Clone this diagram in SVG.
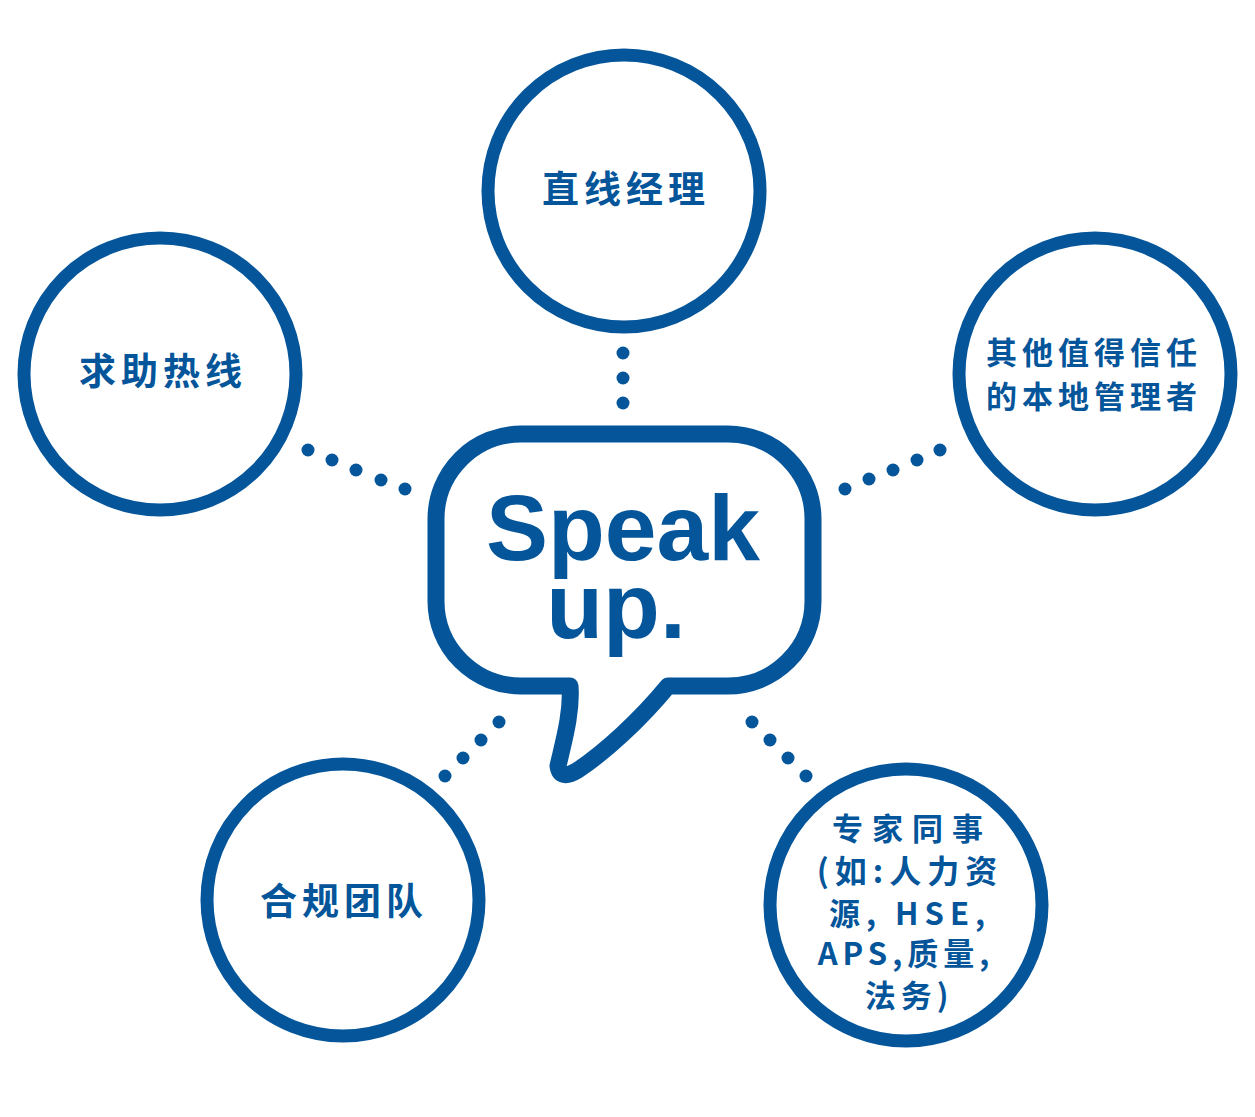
<svg xmlns="http://www.w3.org/2000/svg" width="1255" height="1117" viewBox="0 0 1255 1117">
<style>
.ring{fill:#fff;stroke:#04559A;stroke-width:13}
.dot{fill:#04559A}
.cjk{font-family:"Noto Sans CJK SC","Noto Sans",sans-serif;font-weight:700;fill:#04559A;text-anchor:middle}
.big{font-family:"Liberation Sans",Arial,sans-serif;font-weight:700;fill:#04559A;text-anchor:middle;font-size:93px}
</style>
<rect width="1255" height="1117" fill="#fff"/>
<g id="connectors">
<circle class="dot" cx="623" cy="353" r="6.5"/><circle class="dot" cx="623" cy="378" r="6.5"/><circle class="dot" cx="623" cy="403" r="6.5"/>
<circle class="dot" cx="308" cy="450" r="6.5"/><circle class="dot" cx="332" cy="460" r="6.5"/><circle class="dot" cx="356" cy="470" r="6.5"/><circle class="dot" cx="381" cy="480" r="6.5"/><circle class="dot" cx="405" cy="489" r="6.5"/>
<circle class="dot" cx="845" cy="489" r="6.5"/><circle class="dot" cx="869" cy="479" r="6.5"/><circle class="dot" cx="893" cy="470" r="6.5"/><circle class="dot" cx="917" cy="460" r="6.5"/><circle class="dot" cx="940" cy="450" r="6.5"/>
<circle class="dot" cx="499" cy="722" r="6.5"/><circle class="dot" cx="481" cy="740" r="6.5"/><circle class="dot" cx="463" cy="758" r="6.5"/><circle class="dot" cx="445" cy="776" r="6.5"/>
<circle class="dot" cx="752" cy="722" r="6.5"/><circle class="dot" cx="770" cy="740" r="6.5"/><circle class="dot" cx="788" cy="758" r="6.5"/><circle class="dot" cx="806" cy="776" r="6.5"/>
</g>
<g id="speakup">
<path d="M 570,686 L 521,686 A 85 85 0 0 1 436,601 L 436,519 A 85 85 0 0 1 521,434 L 728,434 A 85 85 0 0 1 813,519 L 813,601 A 85 85 0 0 1 728,686 L 668,686 C 640,720 605,752 578,770 Q 560,781 558,766 C 564,740 572,712 570,686 Z" fill="#fff" stroke="#04559A" stroke-width="17" stroke-linejoin="round"/>
<text class="big" x="623" y="560">Speak</text>
<text class="big" x="616" y="638">up.</text>
</g>
<g id="manager">
<circle class="ring" cx="624" cy="191" r="136"/>
<text class="cjk" x="626" y="203" font-size="37" letter-spacing="5">直线经理</text>
</g>
<g id="hotline">
<circle class="ring" cx="160" cy="374" r="136"/>
<text class="cjk" x="163" y="385" font-size="37" letter-spacing="5">求助热线</text>
</g>
<g id="local">
<circle class="ring" cx="1095" cy="374" r="136"/>
<text class="cjk" x="1094" y="364" font-size="31" letter-spacing="5">其他值得信任</text>
<text class="cjk" x="1094" y="408" font-size="31" letter-spacing="5">的本地管理者</text>
</g>
<g id="compliance">
<circle class="ring" cx="343" cy="900" r="136"/>
<text class="cjk" x="344" y="915" font-size="37" letter-spacing="5">合规团队</text>
</g>
<g id="experts">
<circle class="ring" cx="906" cy="905" r="136"/>
<text class="cjk" x="912" y="840" font-size="31" letter-spacing="9">专家同事</text>
<text class="cjk" x="910" y="883" font-size="32" letter-spacing="6">(如:人力资</text>
<text class="cjk" x="910" y="925" font-size="31" letter-spacing="6">源, HSE,</text>
<text class="cjk" x="906" y="965" font-size="31" letter-spacing="5">APS,质量,</text>
<text class="cjk" x="909" y="1007" font-size="31" letter-spacing="5">法务)</text>
</g>
</svg>
